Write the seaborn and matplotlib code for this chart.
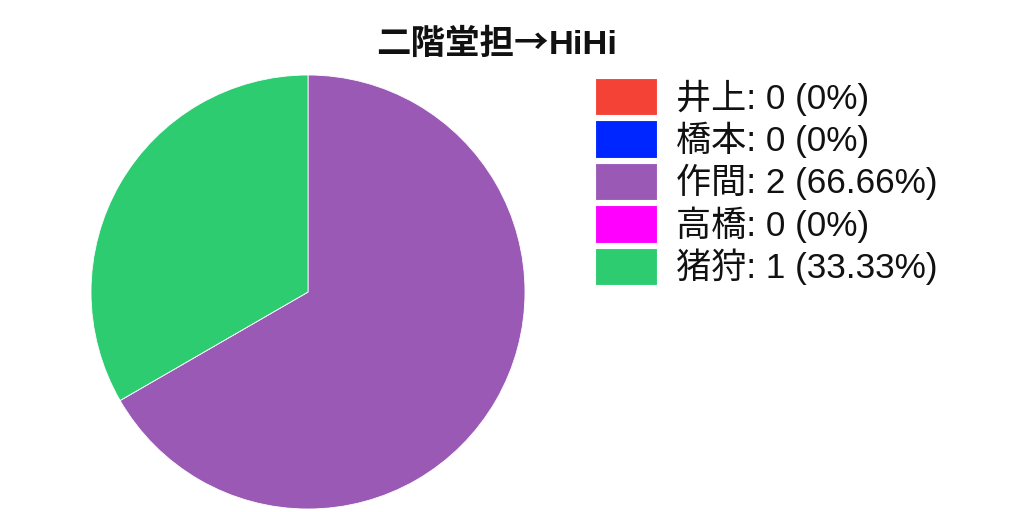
import matplotlib
matplotlib.use("Agg")
import matplotlib.pyplot as plt
import seaborn as sns

names = ["井上", "橋本", "作間", "高橋", "猪狩"]
values = [0, 0, 2, 0, 1]
percents = ["0%", "0%", "66.66%", "0%", "33.33%"]
colors = ["#f44336", "#0026ff", "#9b59b6", "#ff00ff", "#2ecc71"]
title_cjk = "二階堂担→"
title_latin = "HiHi"

sns.set_theme(style="white")
plt.rcParams['font.family'] = ['Liberation Sans', 'Noto Sans CJK JP', 'DejaVu Sans']
plt.rcParams['text.color'] = '#111111'
palette = sns.color_palette(colors)

W, H = 1024, 512
fig = plt.figure(figsize=(W / 100, H / 100), dpi=100)
ax = fig.add_axes([91 / W, 3 / H, 434 / W, 434 / H])
wedges, _ = ax.pie(values, colors=palette, startangle=90, counterclock=False,
                   radius=1.0, wedgeprops=dict(edgecolor="white", linewidth=0.6))
ax.set_xlim(-1, 1)
ax.set_ylim(-1, 1)
ax.set_aspect("equal")
ax.axis("off")

labels = [f"{n}: {v} ({p})" for n, v, p in zip(names, values, percents)]
leg = fig.legend(wedges, labels, loc="upper left", bbox_to_anchor=(595 / W, 1 - 78 / H),
                 frameon=False, fontsize=25.3, handlelength=1.765, handleheight=1.26,
                 handletextpad=0.55, labelspacing=0.14, borderpad=0, borderaxespad=0)
for h in leg.legend_handles:
    h.set_edgecolor("white")
    h.set_linewidth(0.8)

# Title: CJK part in Noto Sans CJK, Latin part in Liberation Sans, on one baseline
base_y = 1 - 54 / H
t1 = fig.text(376 / W, base_y, title_cjk, ha="left", va="baseline", fontsize=24.8,
              fontweight="bold", family=["Noto Sans CJK JP", "DejaVu Sans"])
fig.canvas.draw()
bb = t1.get_window_extent()
fig.text(bb.x1 / W, base_y, title_latin, ha="left", va="baseline", fontsize=24.8,
         fontweight="bold", family=["Liberation Sans", "DejaVu Sans"])

fig.savefig("out.png", dpi=100)
